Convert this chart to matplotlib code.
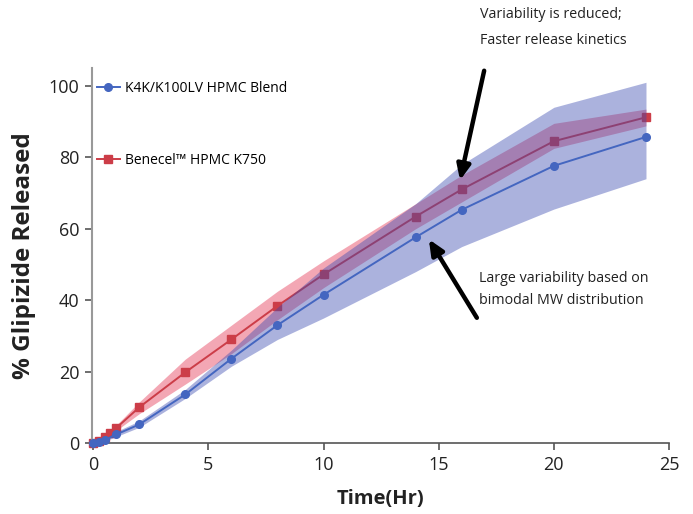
import matplotlib
matplotlib.use("Agg")
import matplotlib.pyplot as plt
from matplotlib.patches import Rectangle
from matplotlib.lines import Line2D

plt.rcParams['font.family'] = ['Open Sans', 'DejaVu Sans']

# ---- data ----
blue_t = [0, 0.25, 0.5, 1, 2, 4, 6, 8, 10, 14, 16, 20, 24]
blue_y = [0, 0.3, 0.8, 2.4, 5.2, 13.6, 23.6, 33, 41.5, 57.6, 65.3, 77.6, 85.7]
blue_hi = [0, 0.5, 1.2, 3.2, 6.2, 15, 26, 38, 49, 67, 78, 94, 101]
blue_lo = [0, 0.1, 0.5, 1.8, 4.4, 12.5, 21.5, 29, 35, 48, 55, 65.5, 74]

red_t = [0, 0.25, 0.5, 0.75, 1, 2, 4, 6, 8, 10, 14, 16, 20, 24]
red_y = [0, 0.6, 1.6, 2.8, 4.2, 10, 19.8, 29, 38.4, 47.2, 63.4, 71, 84.5, 91.2]
red_hi = [0, 0.9, 2.2, 3.5, 5, 11.5, 23.5, 33, 42.5, 51, 67, 75, 89.5, 93.5]
red_lo = [0, 0.3, 1.1, 2.2, 3.5, 8.2, 16.5, 25, 34.5, 43.5, 60, 67.5, 82.5, 88.8]

blue_label = "K4K/K100LV HPMC Blend"
red_label = "Benecel\u2122 HPMC K750"
x_ticks = [0, 5, 10, 15, 20, 25]
y_ticks = [0, 20, 40, 60, 80, 100]

blue_c = '#4466c0'
red_c = '#cc3d48'

fig = plt.figure(figsize=(6.93, 5.14), dpi=100)
ax = fig.add_axes([0.1328, 0.1381, 0.9654 - 0.1328, 0.8677 - 0.1381])

ax.fill_between(red_t, red_lo, red_hi, color='#e8506a', alpha=0.5, lw=0, zorder=1)
ax.plot(red_t, red_y, color=red_c, marker='s', ms=5.5, lw=1.4, zorder=2, clip_on=False)
ax.fill_between(blue_t, blue_lo, blue_hi, color='#3848b0', alpha=0.42, lw=0, zorder=3)
ax.plot(blue_t, blue_y, color=blue_c, marker='o', ms=5.5, lw=1.4, zorder=4, clip_on=False)

# white box behind lower annotation
ax.add_patch(Rectangle((16.77, 25), 9, 31.3, facecolor='white', edgecolor='none', zorder=3.5))

ax.set_xlim(-0.05, 25)
ax.set_ylim(0, 105)
ax.set_xticks(x_ticks)
ax.set_yticks(y_ticks)
ax.tick_params(labelsize=13, length=5, width=1.2, colors='#555555', labelcolor='#222222', pad=4)
for s in ['top', 'right']:
    ax.spines[s].set_visible(False)
ax.spines['left'].set_color('#999999')
ax.spines['left'].set_linewidth(1.5)
ax.spines['bottom'].set_color('#555555')
ax.spines['bottom'].set_linewidth(1.2)

ax.set_xlabel("Time(Hr)", fontsize=14.5, fontweight='bold', color='#222222', labelpad=11)
ax.set_ylabel("% Glipizide Released", fontsize=17.5, fontweight='bold', color='#222222', labelpad=9)

handles = [Line2D([], [], color=blue_c, marker='o', ms=5.5, lw=1.4),
           Line2D([], [], color=red_c, marker='s', ms=5.5, lw=1.4)]
leg = ax.legend(handles, [blue_label, red_label], loc='upper left', bbox_to_anchor=(-0.013, 0.998),
                frameon=False, fontsize=10, labelspacing=4.1, handlelength=1.65, handletextpad=0.35)

# annotations
ax.annotate("", xy=(15.9, 72.8), xytext=(17.0, 105.0),
            arrowprops=dict(arrowstyle='-|>,head_length=0.9,head_width=0.4', color='black', lw=3.2),
            annotation_clip=False, zorder=6)
ax.annotate("", xy=(14.51, 57.7), xytext=(16.72, 34.4),
            arrowprops=dict(arrowstyle='-|>,head_length=0.9,head_width=0.4', color='black', lw=3.2),
            annotation_clip=False, zorder=6)

fig.text(480 / 693, 1 - 15 / 514, "Variability is reduced;", fontsize=10.3, color='#222222', va='center', ha='left')
fig.text(480 / 693, 1 - 40 / 514, "Faster release kinetics", fontsize=10.3, color='#222222', va='center', ha='left')
fig.text(479 / 693, 1 - 278 / 514, "Large variability based on", fontsize=10.3, color='#222222', va='center', ha='left')
fig.text(479 / 693, 1 - 300 / 514, "bimodal MW distribution", fontsize=10.3, color='#222222', va='center', ha='left')

fig.savefig("out.png", dpi=100)
